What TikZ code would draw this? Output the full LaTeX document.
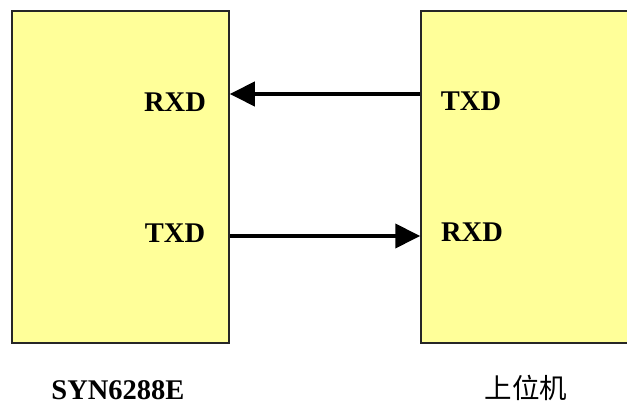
\documentclass[tikz,border=0pt]{standalone}
\usepackage{fontspec}
\setmainfont{Liberation Serif}
\newfontfamily\cjk{Noto Sans CJK SC}
\usetikzlibrary{arrows.meta}
\definecolor{boxyellow}{HTML}{FFFF99}
\tikzset{
	chip/.style={draw=black!85, line width=1.5pt, fill=boxyellow, inner sep=0pt},
	pin/.style={font=\fontsize{28.5}{30}\selectfont\bfseries, inner sep=0pt},
	sig/.style={line width=4pt, -{Triangle[length=25pt,width=24pt]}}
}
\begin{document}
\begin{tikzpicture}[x=1pt,y=1pt]
		\useasboundingbox (0,0) rectangle (627,407);
		\node[chip, minimum width=217pt, minimum height=332pt] (syn) at (120.5,230) {};
		\node[chip, minimum width=219pt, minimum height=332pt] (pc) at (530.5,230) {};
		
		\node[pin] (synrx) at (175,305) {RXD};
		\node[pin] (syntx) at (175,174) {TXD};
		\node[pin] (pctx) at (471,306) {TXD};
		\node[pin] (pcrx) at (472,175) {RXD};
		
		\coordinate (top) at (0,313); \coordinate (bot) at (0,171);
		\draw[sig] (pc.west |- top) -- (syn.east |- top);
		\draw[sig] (syn.east |- bot) -- (pc.west |- bot);
		
		\node[pin] (synname) at (118,17) {SYN6288E};
		\node[font=\fontsize{27.5}{29}\selectfont\cjk, inner sep=0pt] (pcname) at (526,19) {上位机};
		
		\end{tikzpicture}
\end{document}
